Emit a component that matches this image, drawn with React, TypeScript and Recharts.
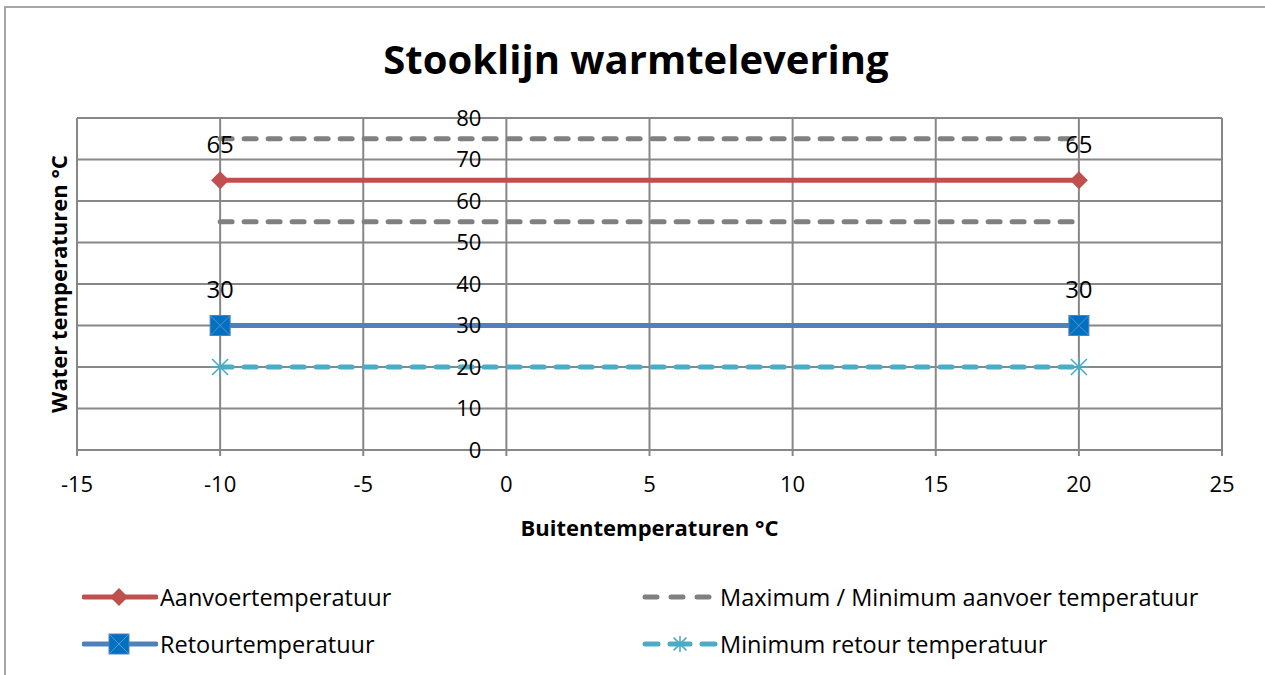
import React from "react";
import { ScatterChart, Scatter, XAxis, YAxis, CartesianGrid, LabelList, Label } from "recharts";

// ── Data ──────────────────────────────────────────────────────────────────
const X_TICKS = [-15, -10, -5, 0, 5, 10, 15, 20, 25];
const Y_TICKS = [0, 10, 20, 30, 40, 50, 60, 70, 80];

const aanvoer = [{ x: -10, y: 65 }, { x: 20, y: 65 }];
const retour = [{ x: -10, y: 30 }, { x: 20, y: 30 }];
const maxAanvoer = [{ x: -10, y: 75 }, { x: 20, y: 75 }];
const minAanvoer = [{ x: -10, y: 55 }, { x: 20, y: 55 }];
const minRetour = [{ x: -10, y: 20 }, { x: 20, y: 20 }];

// ── Style ─────────────────────────────────────────────────────────────────
const W = 1265;
const H = 675;
const FONT = "'Open Sans', sans-serif";
const GRID = "#878787";
const RED = "#C0504D";
const BLUE = "#4F81BD";
const BLUE_FILL = "#0070C0";
const GRAY = "#808080";
const CYAN = "#4BACC6";

const Y_AXIS_W = 1;
const MARGIN = { top: 118, right: 43, left: 77 - Y_AXIS_W, bottom: 165 };
const X_AXIS_H = 60;
const X_MIN = X_TICKS[0];
const X_MAX = X_TICKS[X_TICKS.length - 1];
const PLOT_LEFT = MARGIN.left + Y_AXIS_W;
const PLOT_W = W - PLOT_LEFT - MARGIN.right;
// y axis crosses at x = 0
const Y_AXIS_X = PLOT_LEFT + (PLOT_W * (0 - X_MIN)) / (X_MAX - X_MIN);

const Diamond = ({ cx, cy }: any) => (
  <polygon points={`${cx},${cy - 9} ${cx + 9},${cy} ${cx},${cy + 9} ${cx - 9},${cy}`} fill={RED} />
);

const XSquare = ({ cx, cy }: any) => (
  <g>
    <rect x={cx - 10} y={cy - 10} width={20} height={20} fill={BLUE_FILL} stroke={BLUE} strokeWidth={1} />
    <line x1={cx - 10} y1={cy - 10} x2={cx + 10} y2={cy + 10} stroke="#5B93CF" strokeWidth={1} />
    <line x1={cx - 10} y1={cy + 10} x2={cx + 10} y2={cy - 10} stroke="#5B93CF" strokeWidth={1} />
  </g>
);

const Star = ({ cx, cy, r = 10 }: any) => (
  <g stroke={CYAN} strokeWidth={1.6}>
    <line x1={cx} y1={cy - r} x2={cx} y2={cy + r} />
    <line x1={cx - r} y1={cy} x2={cx + r} y2={cy} />
    <line x1={cx - r * 0.8} y1={cy - r * 0.8} x2={cx + r * 0.8} y2={cy + r * 0.8} />
    <line x1={cx - r * 0.8} y1={cy + r * 0.8} x2={cx + r * 0.8} y2={cy - r * 0.8} />
  </g>
);

const NoMarker = () => <g />;

const renderYTick = ({ y, payload }: any) => (
  <text x={Y_AXIS_X - 25} y={y} dy="0.36em" textAnchor="end" fontSize={22} fill="#000" fontFamily={FONT}>
    {payload.value}
  </text>
);

const renderYTitle = ({ viewBox }: any) => {
  const cx = PLOT_LEFT - 19;
  const cy = viewBox.y + viewBox.height / 2;
  return (
    <text
      x={cx}
      y={cy}
      transform={`rotate(-90 ${cx} ${cy})`}
      textAnchor="middle"
      dominantBaseline="central"
      fontSize={22}
      fontWeight={700}
      fontFamily={FONT}
      fill="#000"
    >
      Water temperaturen °C
    </text>
  );
};

const renderXTitle = ({ viewBox }: any) => (
  <text
    x={viewBox.x + viewBox.width / 2}
    y={viewBox.y + 77}
    textAnchor="middle"
    dominantBaseline="central"
    fontSize={22}
    fontWeight={700}
    fontFamily={FONT}
    fill="#000"
  >
    Buitentemperaturen °C
  </text>
);

const dataLabelStyle = { fontSize: 24, fill: "#000", fontFamily: FONT };

// ── Legend ────────────────────────────────────────────────────────────────
const LegendIcon = ({ kind }: { kind: string }) => (
  <svg width={76} height={24} style={{ display: "block" }}>
    {kind === "aanvoer" && (
      <>
        <line x1={2} y1={12} x2={74} y2={12} stroke={RED} strokeWidth={5} strokeLinecap="round" />
        <Diamond cx={37} cy={12} />
      </>
    )}
    {kind === "retour" && (
      <>
        <line x1={2} y1={12} x2={74} y2={12} stroke={BLUE} strokeWidth={5} strokeLinecap="round" />
        <XSquare cx={37} cy={12} />
      </>
    )}
    {kind === "maxmin" && (
      <line x1={3} y1={12} x2={74} y2={12} stroke={GRAY} strokeWidth={5} strokeLinecap="round" strokeDasharray="12 14" />
    )}
    {kind === "minretour" && (
      <>
        <line x1={3} y1={12} x2={16} y2={12} stroke={CYAN} strokeWidth={5} strokeLinecap="round" />
        <line x1={60} y1={12} x2={73} y2={12} stroke={CYAN} strokeWidth={5} strokeLinecap="round" />
        <line x1={28} y1={12} x2={48} y2={12} stroke={CYAN} strokeWidth={5} strokeLinecap="round" />
        <Star cx={38} cy={12} r={8} />
      </>
    )}
  </svg>
);

const LEGEND_ITEMS = [
  { kind: "aanvoer", label: "Aanvoertemperatuur", left: 82, top: 597 },
  { kind: "maxmin", label: "Maximum / Minimum aanvoer temperatuur", left: 642, top: 597 },
  { kind: "retour", label: "Retourtemperatuur", left: 82, top: 644 },
  { kind: "minretour", label: "Minimum retour temperatuur", left: 642, top: 644 },
];

export default function App() {
  return (
    <div
      style={{
        position: "absolute",
        left: 0,
        top: 0,
        width: W,
        height: H,
        overflow: "hidden",
        background: "#fff",
        fontFamily: FONT,
      }}
    >
      {/* chart frame (only left/top edges visible) */}
      <div
        style={{
          position: "absolute",
          left: 4,
          top: 6,
          width: W + 40,
          height: H + 40,
          border: "2px solid #A6A6A6",
        }}
      />

      <div
        style={{
          position: "absolute",
          left: 6,
          top: 36,
          width: 1260,
          textAlign: "center",
          fontSize: 40,
          fontWeight: 700,
          lineHeight: "46px",
          color: "#000",
        }}
      >
        Stooklijn warmtelevering
      </div>

      <div style={{ position: "absolute", left: 0, top: 0 }}>
        <ScatterChart width={W} height={H} margin={MARGIN}>
          <CartesianGrid stroke={GRID} strokeWidth={2} />
          <XAxis
            type="number"
            dataKey="x"
            domain={[X_MIN, X_MAX]}
            ticks={X_TICKS}
            interval={0}
            height={X_AXIS_H}
            axisLine={{ stroke: GRID, strokeWidth: 2 }}
            tickLine={{ stroke: GRID, strokeWidth: 2 }}
            tickSize={6}
            tickMargin={20}
            tick={{ fontSize: 22, fill: "#000", fontFamily: FONT }}
          >
            <Label content={renderXTitle} />
          </XAxis>
          <YAxis
            type="number"
            dataKey="y"
            domain={[0, 80]}
            ticks={Y_TICKS}
            interval={0}
            width={Y_AXIS_W}
            axisLine={false}
            tickLine={false}
            tick={renderYTick}
          >
            <Label content={renderYTitle} />
          </YAxis>

          <Scatter
            data={aanvoer}
            fill={RED}
            line={{ stroke: RED, strokeWidth: 5 }}
            shape={<Diamond />}
            isAnimationActive={false}
          >
            <LabelList dataKey="y" position="top" offset={23} style={dataLabelStyle} />
          </Scatter>
          <Scatter
            data={retour}
            fill={BLUE}
            line={{ stroke: BLUE, strokeWidth: 5 }}
            shape={<XSquare />}
            isAnimationActive={false}
          >
            <LabelList dataKey="y" position="top" offset={23} style={dataLabelStyle} />
          </Scatter>
          <Scatter
            data={maxAanvoer}
            fill={GRAY}
            line={{ stroke: GRAY, strokeWidth: 5, strokeDasharray: "12 12", strokeLinecap: "round" }}
            shape={<NoMarker />}
            isAnimationActive={false}
          />
          <Scatter
            data={minAanvoer}
            fill={GRAY}
            line={{ stroke: GRAY, strokeWidth: 5, strokeDasharray: "12 12", strokeLinecap: "round" }}
            shape={<NoMarker />}
            isAnimationActive={false}
          />
          <Scatter
            data={minRetour}
            fill={CYAN}
            line={{ stroke: CYAN, strokeWidth: 5, strokeDasharray: "12 12", strokeLinecap: "round" }}
            shape={<Star />}
            isAnimationActive={false}
          />
        </ScatterChart>
      </div>

      {LEGEND_ITEMS.map((item) => (
        <div
          key={item.kind}
          style={{
            position: "absolute",
            left: item.left,
            top: item.top - 14,
            height: 28,
            display: "flex",
            alignItems: "center",
            gap: 2,
            fontSize: 23.5,
            color: "#000",
            whiteSpace: "nowrap",
          }}
        >
          <LegendIcon kind={item.kind} />
          <span style={{ lineHeight: "28px" }}>{item.label}</span>
        </div>
      ))}
    </div>
  );
}
